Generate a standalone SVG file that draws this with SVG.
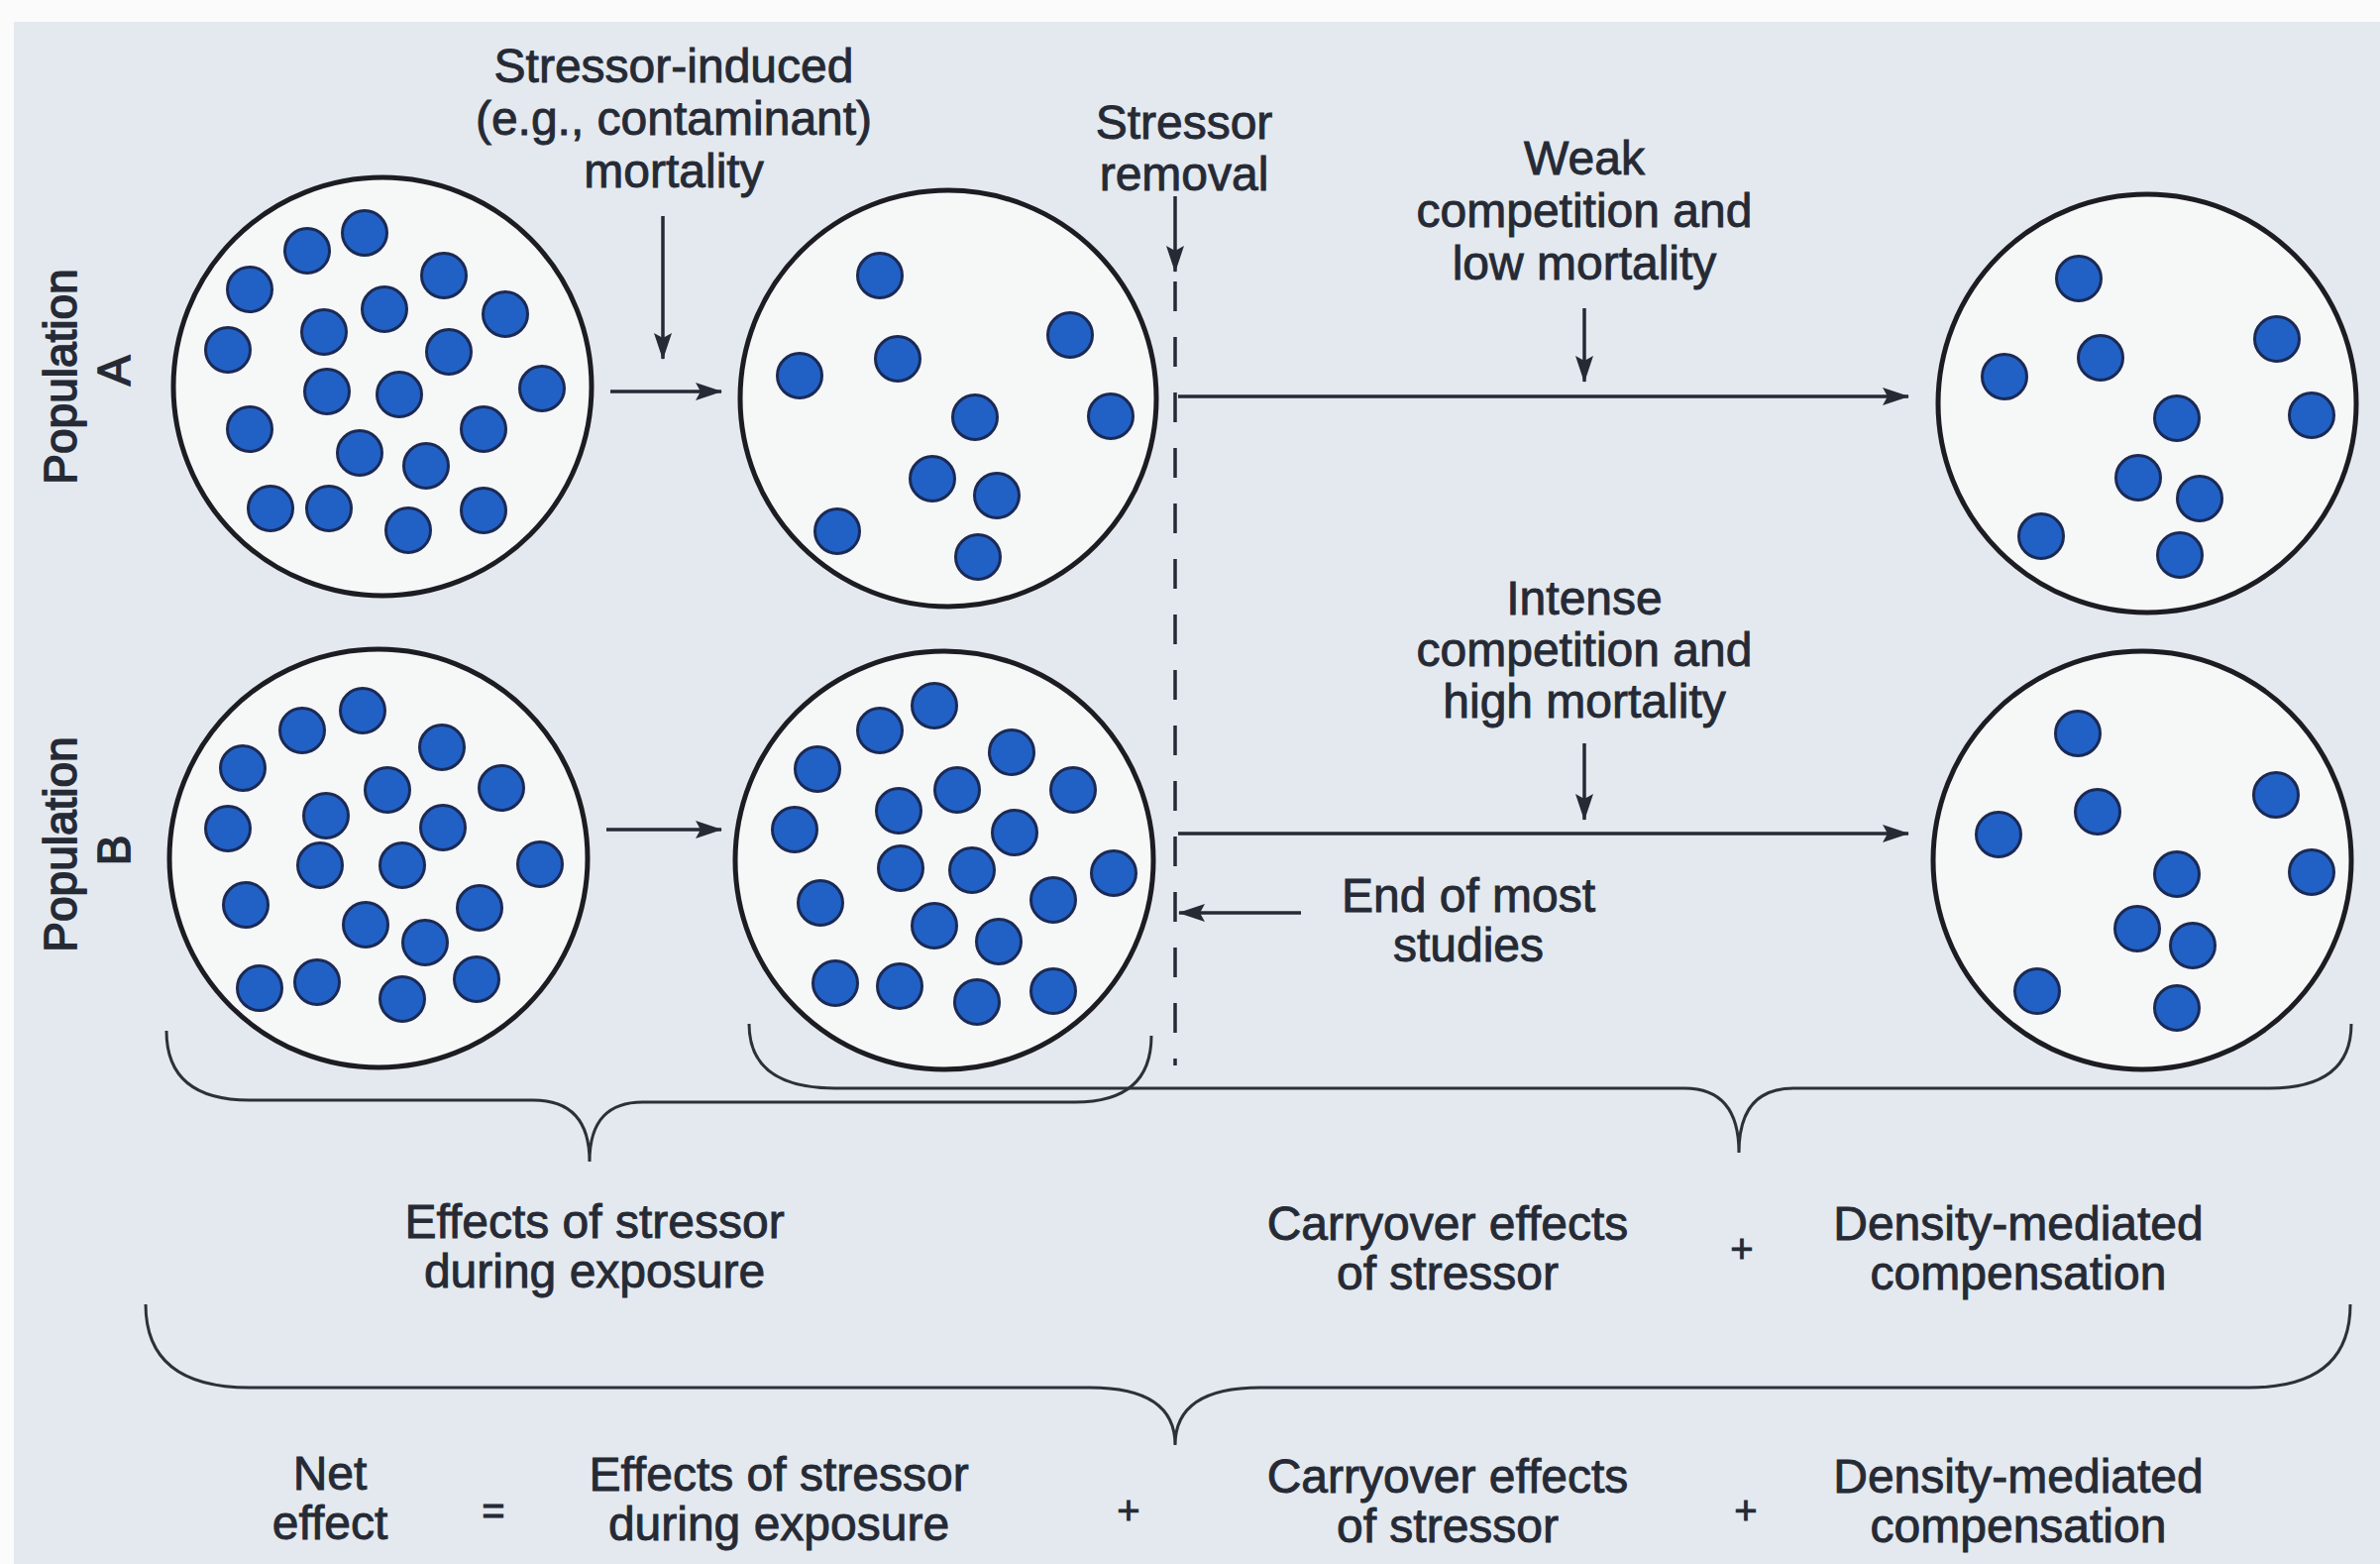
<svg xmlns="http://www.w3.org/2000/svg" width="2402" height="1578" viewBox="0 0 2402 1578">
<style>
.t{font-family:"Liberation Sans",Arial,sans-serif;font-size:48px;fill:#262a35;stroke:#262a35;stroke-width:0.9;text-anchor:middle}
.p{font-family:"Liberation Sans",Arial,sans-serif;font-size:46px;fill:#262a35;stroke:#262a35;stroke-width:1.6;text-anchor:middle}
.c{fill:#f6f7f7;stroke:#1c1c22;stroke-width:5}
.d{fill:#2161c6;stroke:#1b2a55;stroke-width:3}
.a{stroke:#262a35;stroke-width:3.5;fill:none}
.b{stroke:#2e3038;stroke-width:3;fill:none}
</style>
<defs>
<marker id="ah" markerUnits="userSpaceOnUse" markerWidth="28" markerHeight="20" refX="26" refY="10" orient="auto">
<path d="M0,1 L27,10 L0,19 L5,10 Z" fill="#262a35"/>
</marker>
</defs>
<rect x="0" y="0" width="2402" height="1578" fill="#fbfbfb"/>
<rect x="14" y="22" width="2388" height="1556" fill="#e3e9ef"/>

<g id="label-popA">
<text class="p" transform="translate(77,380) rotate(-90)">Population</text>
<text class="p" transform="translate(131,374) rotate(-90)">A</text>
</g>
<g id="label-popB">
<text class="p" transform="translate(77,852) rotate(-90)">Population</text>
<text class="p" transform="translate(131,858) rotate(-90)">B</text>
</g>

<g id="A1">
<circle class="c" cx="386" cy="390" r="211"/>
<g class="d">
<circle cx="310" cy="253" r="22.5"/><circle cx="368" cy="235" r="22.5"/><circle cx="252" cy="292" r="22.5"/><circle cx="448" cy="278" r="22.5"/><circle cx="388" cy="312" r="22.5"/><circle cx="510" cy="317" r="22.5"/><circle cx="327" cy="335" r="22.5"/><circle cx="230" cy="353" r="22.5"/><circle cx="453" cy="355" r="22.5"/><circle cx="330" cy="395" r="22.5"/><circle cx="403" cy="398" r="22.5"/><circle cx="547" cy="392" r="22.5"/><circle cx="252" cy="433" r="22.5"/><circle cx="488" cy="433" r="22.5"/><circle cx="363" cy="457" r="22.5"/><circle cx="430" cy="470" r="22.5"/><circle cx="273" cy="513" r="22.5"/><circle cx="332" cy="513" r="22.5"/><circle cx="412" cy="535" r="22.5"/><circle cx="488" cy="515" r="22.5"/>
</g>
</g>
<g id="A2">
<circle class="c" cx="957" cy="402" r="210"/>
<g class="d">
<circle cx="888" cy="278" r="22.5"/><circle cx="807" cy="379" r="22.5"/><circle cx="906" cy="362" r="22.5"/><circle cx="1080" cy="338" r="22.5"/><circle cx="984" cy="421" r="22.5"/><circle cx="1121" cy="420" r="22.5"/><circle cx="941" cy="483" r="22.5"/><circle cx="1006" cy="500" r="22.5"/><circle cx="845" cy="536" r="22.5"/><circle cx="987" cy="562" r="22.5"/>
</g>
</g>
<g id="A3">
<circle class="c" cx="2167" cy="407" r="211"/>
<g class="d">
<circle cx="2098" cy="281" r="22.5"/><circle cx="2023" cy="380" r="22.5"/><circle cx="2120" cy="361" r="22.5"/><circle cx="2298" cy="342" r="22.5"/><circle cx="2197" cy="422" r="22.5"/><circle cx="2333" cy="419" r="22.5"/><circle cx="2158" cy="482" r="22.5"/><circle cx="2220" cy="503" r="22.5"/><circle cx="2060" cy="541" r="22.5"/><circle cx="2200" cy="560" r="22.5"/>
</g>
</g>
<g id="B1">
<circle class="c" cx="382" cy="866" r="211"/>
<g class="d">
<circle cx="366" cy="717" r="22.5"/><circle cx="305" cy="737" r="22.5"/><circle cx="245" cy="775" r="22.5"/><circle cx="446" cy="754" r="22.5"/><circle cx="506" cy="795" r="22.5"/><circle cx="230" cy="836" r="22.5"/><circle cx="329" cy="823" r="22.5"/><circle cx="391" cy="797" r="22.5"/><circle cx="447" cy="835" r="22.5"/><circle cx="545" cy="872" r="22.5"/><circle cx="323" cy="873" r="22.5"/><circle cx="406" cy="873" r="22.5"/><circle cx="248" cy="913" r="22.5"/><circle cx="484" cy="916" r="22.5"/><circle cx="369" cy="933" r="22.5"/><circle cx="429" cy="951" r="22.5"/><circle cx="262" cy="997" r="22.5"/><circle cx="320" cy="991" r="22.5"/><circle cx="406" cy="1008" r="22.5"/><circle cx="481" cy="988" r="22.5"/>
</g>
</g>
<g id="B2">
<circle class="c" cx="953" cy="868" r="211"/>
<g class="d">
<circle cx="943" cy="712" r="22.5"/><circle cx="888" cy="737" r="22.5"/><circle cx="825" cy="776" r="22.5"/><circle cx="1021" cy="759" r="22.5"/><circle cx="1083" cy="797" r="22.5"/><circle cx="802" cy="837" r="22.5"/><circle cx="907" cy="818" r="22.5"/><circle cx="966" cy="797" r="22.5"/><circle cx="1024" cy="840" r="22.5"/><circle cx="1124" cy="881" r="22.5"/><circle cx="909" cy="876" r="22.5"/><circle cx="981" cy="878" r="22.5"/><circle cx="828" cy="911" r="22.5"/><circle cx="1063" cy="908" r="22.5"/><circle cx="943" cy="934" r="22.5"/><circle cx="1008" cy="950" r="22.5"/><circle cx="843" cy="992" r="22.5"/><circle cx="908" cy="995" r="22.5"/><circle cx="986" cy="1011" r="22.5"/><circle cx="1063" cy="1000" r="22.5"/>
</g>
</g>
<g id="B3">
<circle class="c" cx="2162" cy="868" r="211"/>
<g class="d">
<circle cx="2097" cy="740" r="22.5"/><circle cx="2017" cy="842" r="22.5"/><circle cx="2117" cy="819" r="22.5"/><circle cx="2297" cy="802" r="22.5"/><circle cx="2197" cy="882" r="22.5"/><circle cx="2333" cy="880" r="22.5"/><circle cx="2157" cy="937" r="22.5"/><circle cx="2213" cy="954" r="22.5"/><circle cx="2056" cy="1000" r="22.5"/><circle cx="2197" cy="1017" r="22.5"/>
</g>
</g>

<g id="connectors">
<line class="a" x1="616" y1="395" x2="728" y2="395" marker-end="url(#ah)"/>
<line class="a" x1="612" y1="837" x2="728" y2="837" marker-end="url(#ah)"/>
<line class="a" x1="669" y1="218" x2="669" y2="362" marker-end="url(#ah)"/>
<line class="a" x1="1186" y1="198" x2="1186" y2="274" marker-end="url(#ah)"/>
<line class="a" x1="1186" y1="284" x2="1186" y2="1075" stroke-dasharray="30 26"/>
<line class="a" x1="1189" y1="400" x2="1926" y2="400" marker-end="url(#ah)"/>
<line class="a" x1="1189" y1="841" x2="1926" y2="841" marker-end="url(#ah)"/>
<line class="a" x1="1599" y1="311" x2="1599" y2="385" marker-end="url(#ah)"/>
<line class="a" x1="1599" y1="750" x2="1599" y2="827" marker-end="url(#ah)"/>
<line class="a" x1="1313" y1="921" x2="1190" y2="921" marker-end="url(#ah)"/>
</g>

<g id="braces">
<path class="b" d="M168,1040 Q168,1110 252,1110 L538,1110 Q595,1110 595,1172 Q595,1110 652,1112 L1085,1112 Q1162,1112 1162,1045"/>
<path class="b" d="M756,1033 Q756,1098 843,1098 L1700,1098 Q1755,1098 1755,1163 Q1755,1098 1810,1098 L2290,1098 Q2373,1098 2373,1033"/>
<path class="b" d="M147,1316 Q147,1400 252,1400 L1100,1400 Q1186,1400 1186,1458 Q1186,1400 1272,1400 L2270,1400 Q2372,1400 2372,1316"/>
</g>

<g id="label-stressor-induced">
<text class="t" x="680" y="83">Stressor-induced</text>
<text class="t" x="680" y="136">(e.g., contaminant)</text>
<text class="t" x="680" y="189">mortality</text>
</g>
<g id="label-removal">
<text class="t" x="1195" y="140">Stressor</text>
<text class="t" x="1195" y="192">removal</text>
</g>
<g id="label-weak">
<text class="t" x="1599" y="176">Weak</text>
<text class="t" x="1599" y="229">competition and</text>
<text class="t" x="1599" y="282">low mortality</text>
</g>
<g id="label-intense">
<text class="t" x="1599" y="620">Intense</text>
<text class="t" x="1599" y="672">competition and</text>
<text class="t" x="1599" y="724">high mortality</text>
</g>
<g id="label-end">
<text class="t" x="1482" y="920">End of most</text>
<text class="t" x="1482" y="970">studies</text>
</g>
<g id="row-middle">
<text class="t" x="600" y="1249">Effects of stressor</text>
<text class="t" x="600" y="1299">during exposure</text>
<text class="t" x="1461" y="1251">Carryover effects</text>
<text class="t" x="1461" y="1301">of stressor</text>
<text class="t" x="1758" y="1274" style="font-size:40px">+</text>
<text class="t" x="2037" y="1251">Density-mediated</text>
<text class="t" x="2037" y="1301">compensation</text>
</g>
<g id="row-bottom">
<text class="t" x="333" y="1503">Net</text>
<text class="t" x="333" y="1553">effect</text>
<text class="t" x="498" y="1538" style="font-size:40px">=</text>
<text class="t" x="786" y="1504">Effects of stressor</text>
<text class="t" x="786" y="1554">during exposure</text>
<text class="t" x="1139" y="1538" style="font-size:40px">+</text>
<text class="t" x="1461" y="1506">Carryover effects</text>
<text class="t" x="1461" y="1556">of stressor</text>
<text class="t" x="1762" y="1538" style="font-size:40px">+</text>
<text class="t" x="2037" y="1506">Density-mediated</text>
<text class="t" x="2037" y="1556">compensation</text>
</g>
</svg>
